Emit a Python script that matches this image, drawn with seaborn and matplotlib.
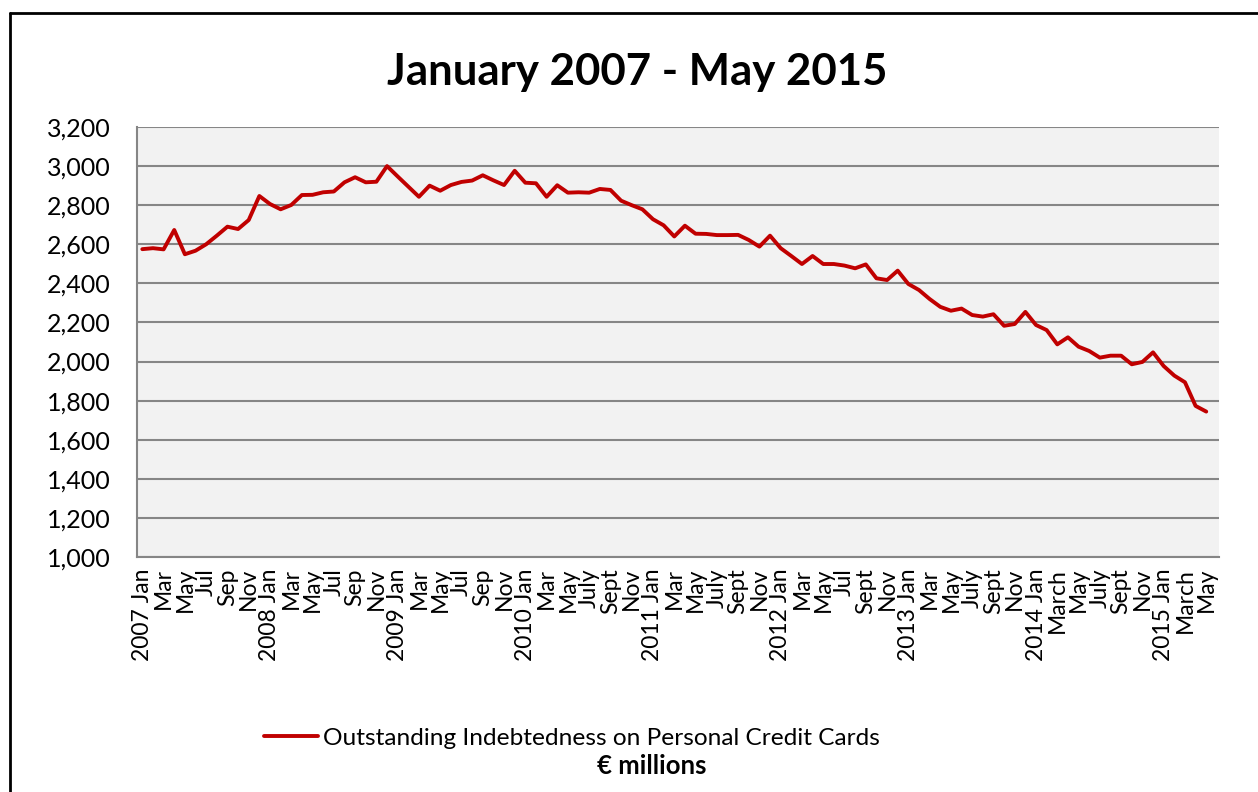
import seaborn as sns
import matplotlib.pyplot as plt
import matplotlib.lines as mlines
import matplotlib.ticker as mticker
import numpy as np
import pandas as pd

chart_title = 'January 2007 - May 2015'
series_name = 'Outstanding Indebtedness on Personal Credit Cards'
unit_label = '€ millions'

# monthly values, € millions
vals_2007 = [2575, 2580, 2574, 2673, 2549, 2567, 2600, 2644, 2690, 2678, 2724, 2847]
vals_2008 = [2806, 2779, 2801, 2852, 2853, 2866, 2870, 2917, 2943, 2917, 2920, 3000]
vals_2009 = [2947, 2895, 2843, 2900, 2874, 2903, 2919, 2926, 2953, 2927, 2903, 2976]
vals_2010 = [2915, 2912, 2843, 2902, 2864, 2866, 2864, 2883, 2878, 2823, 2800, 2779]
vals_2011 = [2728, 2697, 2640, 2695, 2654, 2653, 2647, 2647, 2648, 2622, 2588, 2644]
vals_2012 = [2580, 2540, 2499, 2540, 2499, 2499, 2491, 2477, 2497, 2426, 2417, 2465]
vals_2013 = [2397, 2366, 2320, 2280, 2260, 2271, 2238, 2230, 2242, 2183, 2192, 2254]
vals_2014 = [2187, 2161, 2088, 2124, 2076, 2054, 2020, 2030, 2030, 1986, 1998, 2047]
vals_2015 = [1977, 1928, 1894, 1773, 1744]

# every second month gets a label
tick_labels = [
  '2007 Jan', 'Mar', 'May', 'Jul', 'Sep', 'Nov',
  '2008 Jan', 'Mar', 'May', 'Jul', 'Sep', 'Nov',
  '2009 Jan', 'Mar', 'May', 'Jul', 'Sep', 'Nov',
  '2010 Jan', 'Mar', 'May', 'July', 'Sept', 'Nov',
  '2011 Jan', 'Mar', 'May', 'July', 'Sept', 'Nov',
  '2012 Jan', 'Mar', 'May', 'Jul', 'Sept', 'Nov',
  '2013 Jan', 'Mar', 'May', 'July', 'Sept', 'Nov',
  '2014 Jan', 'March', 'May', 'July', 'Sept', 'Nov',
  '2015 Jan', 'March', 'May',
]

values = (vals_2007 + vals_2008 + vals_2009 + vals_2010 + vals_2011
          + vals_2012 + vals_2013 + vals_2014 + vals_2015)
df = pd.DataFrame({'month': np.arange(len(values)), 'value': values})

line_color = '#C00000'
grid_color = '#868686'

sns.set_theme(style='white')
plt.rcParams['font.family'] = ['Lato', 'DejaVu Sans']
plt.rcParams['text.color'] = 'black'

fig = plt.figure(figsize=(12.58, 7.92), dpi=100)
ax = fig.add_axes([137/1258, 1 - 557/792, (1219 - 137)/1258, (557 - 127)/792])
ax.set_facecolor('#F2F2F2')

sns.lineplot(data=df, x='month', y='value', color=line_color, linewidth=2.8, ax=ax)

ax.set_xlim(-0.5, 101.2)
ax.set_ylim(1000, 3200)
ax.set_yticks(np.arange(1000, 3201, 200))
ax.yaxis.set_major_formatter(mticker.FuncFormatter(lambda v, p: f'{int(v):,}'))
ax.set_xticks(np.arange(0, len(values), 2))
ax.set_xticklabels(tick_labels, rotation=90)
ax.set_xticks(np.arange(-0.5, len(values) + 0.5, 1), minor=True)

ax.tick_params(axis='x', which='major', length=0, pad=8, labelsize=16.5, colors='black')
ax.tick_params(axis='x', which='minor', length=5, width=1.2, color=grid_color, direction='out')
ax.tick_params(axis='y', length=0, pad=19, labelsize=18, colors='black')

ax.grid(axis='y', color=grid_color, linewidth=1.5)
ax.set_axisbelow(True)
for side in ['top', 'right']:
  ax.spines[side].set_visible(False)
for side in ['left', 'bottom']:
  ax.spines[side].set_color(grid_color)
  ax.spines[side].set_linewidth(1.5)
ax.set_xlabel('')
ax.set_ylabel('')

fig.text(637/1258, 1 - 72/792, chart_title, ha='center', va='center',
         fontsize=31.5, fontweight='bold', color='black')

handle = mlines.Line2D([], [], color=line_color, linewidth=2.8)
fig.legend(handles=[handle], labels=[series_name], loc='center',
           bbox_to_anchor=(572/1258, 1 - 738/792), frameon=False,
           fontsize=17.6, handlelength=2.2, handletextpad=0.2, labelcolor='black')
fig.text(652/1258, 1 - 766/792, unit_label, ha='center', va='center',
         fontsize=18.5, fontweight='bold', color='black')

# outer chart border (only left and top edges visible in the crop)
fig.add_artist(mlines.Line2D([10/1258, 10/1258], [0, 1 - 13/792],
                             transform=fig.transFigure, color='black', linewidth=2))
fig.add_artist(mlines.Line2D([10/1258, 1], [1 - 13/792, 1 - 13/792],
                             transform=fig.transFigure, color='black', linewidth=2))

plt.savefig('out.png', dpi=100)
